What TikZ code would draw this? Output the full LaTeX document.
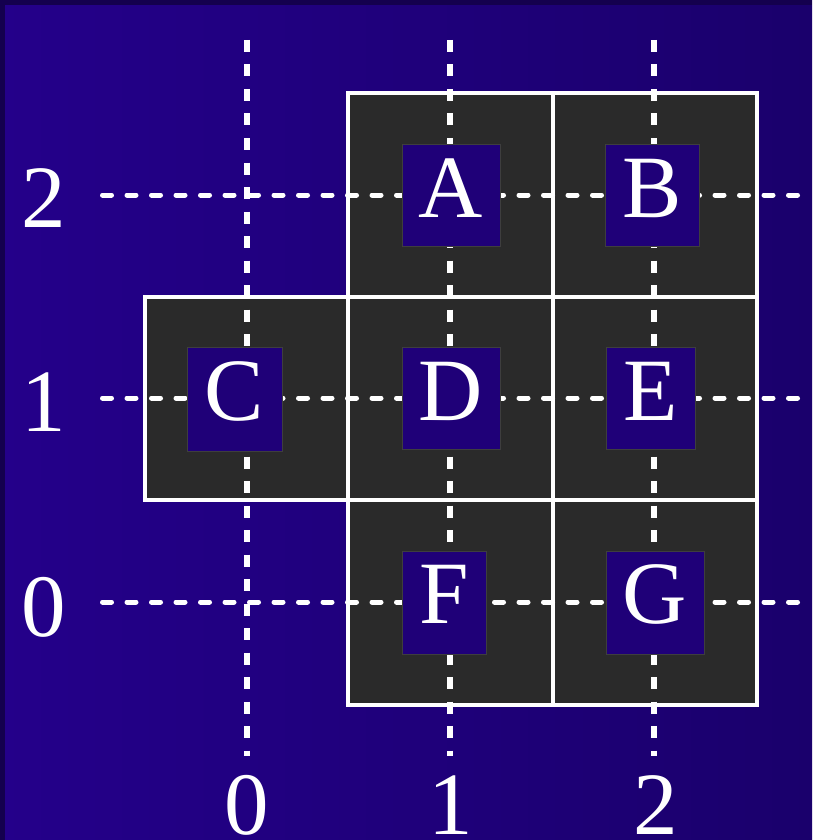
\documentclass[tikz,border=0pt]{standalone}
\usepackage{fontspec}
\setmainfont{Liberation Serif}
\definecolor{bgL}{RGB}{36,0,138}
\definecolor{bgR}{RGB}{26,0,108}
\definecolor{framec}{RGB}{20,0,78}
\definecolor{cellgray}{RGB}{42,42,42}
\definecolor{boxblue}{RGB}{31,0,120}
\definecolor{boxedge}{RGB}{62,62,62}
\begin{document}
\begin{tikzpicture}[x=1pt,y=-1pt,
  cell/.style={fill=cellgray,draw=white,line width=3.5pt},
  hgrid/.style={draw=white,line width=5pt,line cap=round,dash pattern=on 9pt off 15.5pt},
  vgrid/.style={draw=white,line width=5.5pt,dash pattern=on 12pt off 12.5pt},
  lbox/.style={fill=boxblue,draw=boxedge,line width=1pt,inner sep=0pt},
  letter/.style={text=white,font=\fontsize{89}{89}\selectfont,inner sep=0pt,anchor=base},
]
\useasboundingbox (0,0) rectangle (812,840);
\fill[left color=bgL,right color=bgR] (0,0) rectangle (812,840);
\fill[framec] (0,0) rectangle (812,5);
\fill[framec] (0,0) rectangle (5,840);

% cells
\draw[cell] (145,297) rectangle (348,500);
\draw[cell] (348,93) rectangle (553,297);
\draw[cell] (553,93) rectangle (757,297);
\draw[cell] (348,297) rectangle (553,500);
\draw[cell] (553,297) rectangle (757,500);
\draw[cell] (348,500) rectangle (553,705);
\draw[cell] (553,500) rectangle (757,705);

% grid lines
\coordinate (v0t) at (247,40);  \coordinate (v0b) at (247,756);
\coordinate (v1t) at (450,40);  \coordinate (v1b) at (450,756);
\coordinate (v2t) at (654,40);  \coordinate (v2b) at (654,756);
\coordinate (h2l) at (102.5,195); \coordinate (h2r) at (812,195);
\coordinate (h1l) at (102.5,398); \coordinate (h1r) at (812,398);
\coordinate (h0l) at (102.5,602); \coordinate (h0r) at (812,602);
\draw[vgrid] (v0t) -- (v0b);
\draw[vgrid] (v1t) -- (v1b);
\draw[vgrid] (v2t) -- (v2b);
\draw[hgrid] (h2l) -- (h2r);
\draw[hgrid] (h1l) -- (h1r);
\draw[hgrid] (h0l) -- (h0r);

% letter boxes
\node[lbox,minimum width=98pt,minimum height=102pt] (boxA) at (451,195) {};
\node[lbox,minimum width=94pt,minimum height=102pt] (boxB) at (652,195) {};
\node[lbox,minimum width=95pt,minimum height=104pt] (boxC) at (234.5,399) {};
\node[lbox,minimum width=98pt,minimum height=102pt] (boxD) at (451,398) {};
\node[lbox,minimum width=89pt,minimum height=102pt] (boxE) at (650.5,398) {};
\node[lbox,minimum width=84pt,minimum height=103pt] (boxF) at (444,602.5) {};
\node[lbox,minimum width=98pt,minimum height=103pt] (boxG) at (655,602.5) {};

\node[letter] (A) at (451,217) {A};
\node[letter] (B) at (652,217) {B};
\node[letter] (C) at (234.5,420) {C};
\node[letter] (D) at (451,420) {D};
\node[letter] (E) at (650.5,420) {E};
\node[letter] (F) at (444,623.5) {F};
\node[letter] (G) at (655,623.5) {G};

% axis labels
\node[letter] (y2) at (44,227) {2};
\node[letter] (y1) at (44,431) {1};
\node[letter] (y0) at (44,636) {0};
\node[letter] (x0) at (247,834) {0};
\node[letter] (x1) at (451,834) {1};
\node[letter] (x2) at (656,834) {2};
\end{tikzpicture}
\end{document}
